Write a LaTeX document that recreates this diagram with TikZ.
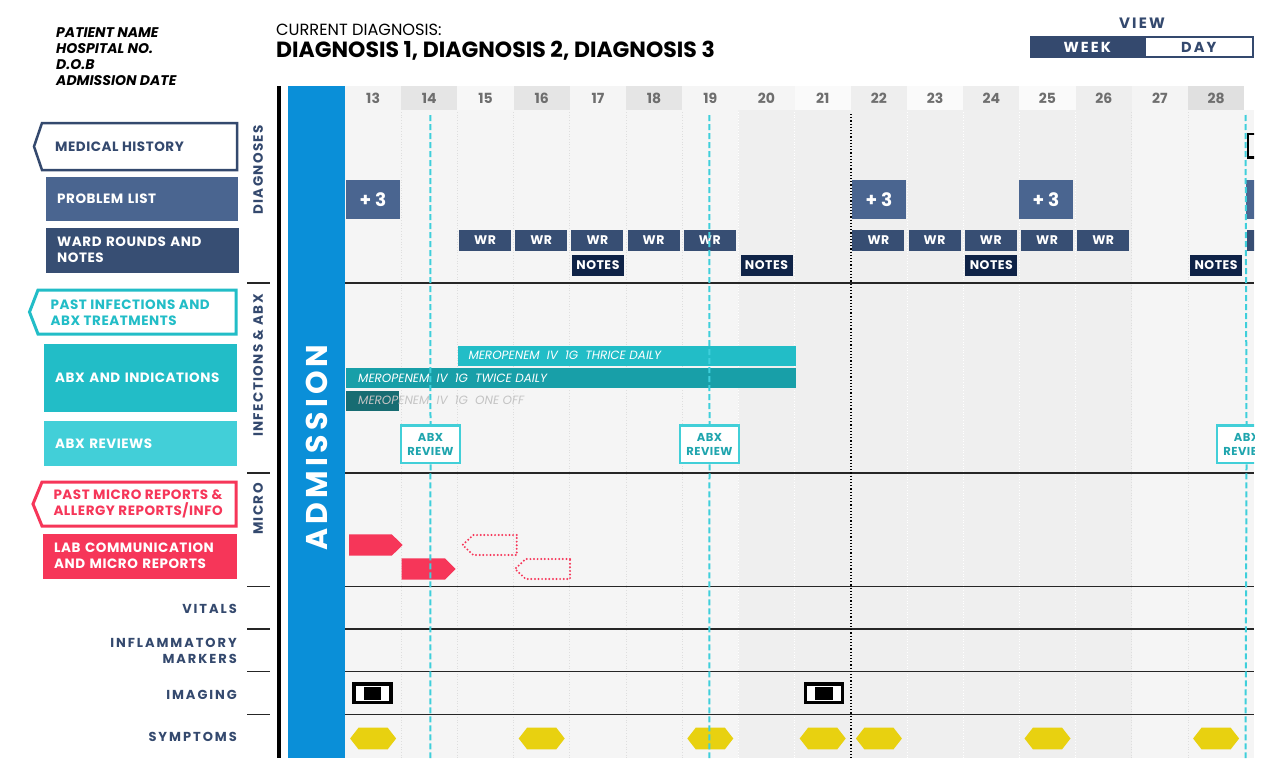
\documentclass[tikz,border=0pt]{standalone}
\usepackage{fontspec}
\setmainfont{Poppins}
\newfontfamily\popls[LetterSpace=10]{Poppins}
\newfontfamily\popwide[LetterSpace=15]{Poppins}
\newfontfamily\popsl[LetterSpace=4]{Poppins}
\newfontfamily\popadm[LetterSpace=14]{Poppins}
\newcommand\fsz[2]{\fontsize{#1}{#2}\selectfont}
\definecolor{navy}{HTML}{34496E}
\definecolor{plist}{HTML}{4A6590}
\definecolor{wround}{HTML}{374E73}
\definecolor{notesc}{HTML}{0F2347}
\definecolor{teal1}{HTML}{22BDC7}
\definecolor{teal2}{HTML}{189FA8}
\definecolor{teal3}{HTML}{176C72}
\definecolor{cyanl}{HTML}{42CFD8}
\definecolor{tealtxt}{HTML}{1FA5AE}
\definecolor{redc}{HTML}{F63659}
\definecolor{admblue}{HTML}{0A8FD8}
\definecolor{gridbg}{HTML}{F5F5F5}
\definecolor{gridbg2}{HTML}{EFEFEF}
\definecolor{symy}{HTML}{E8D110}
\definecolor{daygray}{HTML}{6E6E6E}
\definecolor{dashc}{HTML}{3FCFDB}
\definecolor{offtxt}{HTML}{C4C4C4}
\begin{document}
\begin{tikzpicture}[x=1pt,y=-1pt,
  pinfo/.style={anchor=base west, inner sep=0, font=\bfseries\itshape\fsz{14}{16}},
  sidebox/.style={anchor=north west, inner xsep=11, inner ysep=0, align=left, text=white, font=\popsl\bfseries\fsz{13.5}{15.6}},
  outlbl/.style={anchor=west, inner sep=0, align=left, font=\popsl\bfseries\fsz{13.5}{15.6}},
  rowlbl/.style={anchor=east, inner sep=0, align=right, text=navy, font=\popwide\bfseries\fsz{13}{16}},
  seclbl/.style={rotate=90, inner sep=0, text=navy, font=\popls\bfseries\fsz{13.5}{16}},
  daylbl/.style={inner sep=0, text=daygray, font=\bfseries\fsz{14}{16}},
  plusbox/.style={fill=plist, text=white, minimum width=54, minimum height=39, inner sep=0, font=\bfseries\fsz{18.5}{20}},
  wrbox/.style={fill=wround, text=white, minimum width=52, minimum height=21, inner sep=0, font=\popsl\bfseries\fsz{12.5}{14}},
  notesbox/.style={fill=notesc, text=white, minimum width=52, minimum height=21, inner sep=0, font=\popsl\bfseries\fsz{12.5}{14}},
  drugtxt/.style={anchor=west, inner sep=0, font=\itshape\fsz{12}{13}},
  abxrev/.style={draw=cyanl, line width=2.5, fill=white, minimum width=59, minimum height=37.5, inner sep=0, align=center, text=tealtxt, font=\popsl\bfseries\fsz{11.5}{14}},
  imgbox/.style={draw=black, line width=2.5, fill=white, minimum width=38, minimum height=19.5, inner sep=0},
  sepline/.style={draw=black!85, line width=1.5},
  colline/.style={draw=black!13, line width=0.7, dotted},
  collinew/.style={draw=white, line width=0.7, dotted},
  abxline/.style={draw=dashc, line width=2, dash pattern=on 6pt off 3pt},
  microdot/.style={draw=redc, line width=2.2, line cap=round, dash pattern=on 0pt off 3.6pt},
  togglebox/.style={draw=navy, line width=2, minimum height=20.5, inner sep=0, font=\popwide\bfseries\fsz{14.5}{16}}
]
\useasboundingbox[fill=white] (0,0) rectangle (1274,779);

% patient info
\node[pinfo] (pname) at (56,37.5) {PATIENT NAME};
\node[pinfo] (hosp) at (56,53.3) {HOSPITAL NO.};
\node[pinfo] (dob) at (56,69) {D.O.B};
\node[pinfo] (adate) at (56,85) {ADMISSION DATE};

% diagnosis
\node[anchor=base west, inner sep=0, font=\fsz{16.2}{18}] (curdx) at (276,35) {CURRENT DIAGNOSIS:};
\node[anchor=base west, inner sep=0, font=\bfseries\fsz{22}{24}] (dxlist) at (276,57.5) {DIAGNOSIS 1, DIAGNOSIS 2, DIAGNOSIS 3};

% view toggle
\node[inner sep=0, text=navy, font=\popwide\bfseries\fsz{15}{18}] (view) at (1142,23) {VIEW};
\node[togglebox, fill=navy, text=white, minimum width=112] (week) at (1087.3,47.2) {WEEK};
\node[togglebox, fill=white, text=navy, minimum width=108] (day) at (1198.7,47.2) {DAY};

% left sidebar
\draw[navy, line width=2.5] (237,123) -- (42,123) -- (34,146.5) -- (42,170) -- (237,170) -- cycle;
\node[outlbl, text=navy] (mh) at (55,146.5) {MEDICAL HISTORY};
\node[sidebox, fill=plist, minimum width=192, minimum height=44, text width=170] (pl) at (46,177) {PROBLEM LIST};
\node[sidebox, fill=wround, minimum width=193, minimum height=45, text width=171] (wrn) at (46,227.3) {WARD ROUNDS AND\\NOTES};
\draw[teal1, line width=3] (236,290) -- (38,290) -- (29.5,312) -- (38,334) -- (236,334) -- cycle;
\node[outlbl, text=teal1] (pinf) at (50.5,312.5) {PAST INFECTIONS AND\\ABX TREATMENTS};
\node[sidebox, fill=teal1, minimum width=193, minimum height=68, text width=171] (abxi) at (44,343.5) {ABX AND INDICATIONS};
\node[sidebox, fill=cyanl, minimum width=193, minimum height=45, text width=171] (abxr) at (44,421) {ABX REVIEWS};
\draw[redc, line width=3] (236,482) -- (42,482) -- (33,504) -- (42,526) -- (236,526) -- cycle;
\node[outlbl, text=redc] (pmic) at (53.3,504) {PAST MICRO REPORTS \&\\ALLERGY REPORTS/INFO};
\node[sidebox, fill=redc, minimum width=194, minimum height=45, text width=172] (lab) at (43,533.3) {LAB COMMUNICATION\\AND MICRO REPORTS};

\node[rowlbl] (vit) at (237,608.5) {VITALS};
\node[rowlbl] (infl) at (237,651) {INFLAMMATORY\\MARKERS};
\node[rowlbl] (imgl) at (237,695) {IMAGING};
\node[rowlbl] (sym) at (237,737) {SYMPTOMS};

% section labels
\node[seclbl] (sdiag) at (258,170) {DIAGNOSES};
\node[seclbl] (sinf) at (258,365.5) {INFECTIONS \& ABX};
\node[seclbl] (smic) at (258,509) {MICRO};
\foreach \yy in {283,473,586.5,629,671.5,714.5}{
  \draw[sepline] (247,\yy) -- (270,\yy);
}

% bars
\fill[black] (277,86) rectangle (281,758);
\fill[admblue] (288,86) rectangle (344.5,758);
\node[rotate=90, inner sep=0, text=white, font=\popadm\bfseries\fsz{30}{32}] (adm) at (316.5,447.5) {ADMISSION};

% header
\foreach \d/\c in {13/F4F4F4,14/E5E5E5,15/F7F7F7,16/E5E5E5,17/F5F5F5,18/E5E5E5,19/F5F5F5,20/F5F5F5,21/FAFAFA,22/EEEEEE,23/FAFAFA,24/EEEEEE,25/FAFAFA,26/EEEEEE,27/F4F4F4,28/E0E0E0}{
  \pgfmathsetmacro\xs{345+56.2*(\d-13)}
  \definecolor{hc}{HTML}{\c}
  \fill[hc] (\xs,86) rectangle ({\xs+56.2},110);
  \node[daylbl] (day\d) at ({\xs+28.1},98) {\d};
}

% grid body
\fill[gridbg] (345,110) rectangle (1254,758);
\fill[gridbg2] (738.4,110) rectangle (1131.8,758);
\foreach \k in {1,2,3,4,5,6,14,15}{
  \pgfmathsetmacro\xl{345+56.2*\k}
  \draw[colline] (\xl,112) -- (\xl,758);
}
\foreach \k in {7,8,10,11,12,13}{
  \pgfmathsetmacro\xl{345+56.2*\k}
  \draw[collinew] (\xl,112) -- (\xl,758);
}
\foreach \yy in {283,473,586.5,629,671.5,714.5}{
  \draw[sepline] (345,\yy) -- (1254,\yy);
}

\begin{scope}
\clip (345,86) rectangle (1254,758);
% diagnoses row
\draw[black, line width=2.5] (1248,134) rectangle (1300,157.5);
\node[plusbox] (p13) at (373,199.5) {+ 3};
\node[plusbox] (p22) at (879,199.5) {+ 3};
\node[plusbox] (p25) at (1046,199.5) {+ 3};
\node[plusbox] (p29) at (1273,199.5) {};
\foreach \d in {15,16,17,18,19,22,23,24,25,26}{
  \pgfmathsetmacro\xc{345+56.2*(\d-13)+27.6}
  \node[wrbox] (wr\d) at (\xc,240.5) {WR};
}
\node[wrbox] (wr29) at (1273.4,240.5) {};
\foreach \d in {17,20,24,28}{
  \pgfmathsetmacro\xc{345+56.2*(\d-13)+28.1}
  \node[notesbox] (nt\d) at (\xc,265) {NOTES};
}

% antibiotics
\fill[teal1] (458.3,345.7) rectangle (795.5,365.5);
\node[drugtxt, text=white] (mthr) at (468.3,355.6) {MEROPENEM\ \ IV\ \ 1G\ \ THRICE DAILY};
\fill[teal2] (345.7,368) rectangle (795.5,388.3);
\node[drugtxt, text=white] (mtw) at (358,378.2) {MEROPENEM\ \ IV\ \ 1G\ \ TWICE DAILY};
\fill[teal3] (345.7,390.5) rectangle (399.3,410.7);
\node[drugtxt, text=offtxt] (mone) at (358,400.6) {MEROPENEM\ \ IV\ \ 1G\ \ ONE OFF};

% micro
\fill[redc] (349,534.3) -- (391.7,534.3) -- (402.7,545) -- (391.7,555.7) -- (349,555.7) -- cycle;
\fill[redc] (401.7,558.3) -- (445,558.3) -- (455.7,569) -- (445,579.7) -- (401.7,579.7) -- cycle;
\draw[microdot] (516.7,535) -- (473.3,535) -- (462.5,545) -- (473.3,555) -- (516.7,555) -- cycle;
\draw[microdot] (570,559) -- (525.7,559) -- (515,569) -- (525.7,579) -- (570,579) -- cycle;

% imaging
\foreach \nm/\cx in {im1/372.5,im2/824}{
  \node[imgbox] (\nm) at (\cx,693.2) {};
  \draw[black, line width=0.8] ([shift={(3,3)}]\nm.north west) rectangle ([shift={(-3,-3)}]\nm.south east);
  \fill[black] ([shift={(-8.7,-6.5)}]\nm.center) rectangle ([shift={(8.7,6.5)}]\nm.center);
}

% symptoms
\foreach \cx in {373.1,541.7,710.3,822.7,878.9,1047.5,1216.1}{
  \fill[symy] ({\cx-23},738.5) -- ({\cx-14.6},727.7) -- ({\cx+14.6},727.7) -- ({\cx+23},738.5) -- ({\cx+14.6},749.3) -- ({\cx-14.6},749.3) -- cycle;
}

% week divider
\coordinate (wkt) at (851,114);
\coordinate (wkb) at (851,758);
\draw[black, line width=1.2, dotted] (wkt) -- (wkb);

% abx reviews
\node[abxrev] (ar1) at (430.5,444.3) {ABX\\REVIEW};
\node[abxrev] (ar2) at (709.5,444.3) {ABX\\REVIEW};
\node[abxrev] (ar3) at (1246.5,444.3) {ABX\\REVIEW};
\foreach \nm/\xx in {ar1/430.3,ar2/709.3,ar3/1245.5}{
  \coordinate (\nm t) at (\xx,115);
  \coordinate (\nm b) at (\xx,758);
  \draw[abxline] (\nm t) -- (\nm.north);
  \draw[abxline] (\nm.south) -- (\nm b);
}
\end{scope}
\end{tikzpicture}
\end{document}
